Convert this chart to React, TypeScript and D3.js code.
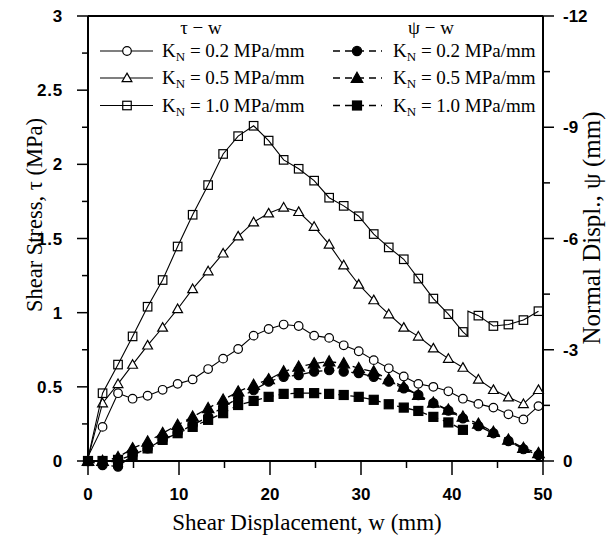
import React from 'react';
import * as d3 from 'd3';

// shear displacement (mm) at which points were recorded
const W = [0, 1.6, 3.3, 4.9, 6.55, 8.2, 9.85, 11.5, 13.2, 14.85, 16.5, 18.2, 19.85, 21.5, 23.15, 24.85, 26.5, 28.1, 29.75, 31.4, 33.05, 34.7, 36.3, 37.95, 39.6, 41.2, 42.9, 44.55, 46.2, 47.85, 49.5];

// shear stress tau (MPa)
const TAU_02 = [0.03, 0.23, 0.457, 0.42, 0.44, 0.48, 0.52, 0.55, 0.62, 0.69, 0.755, 0.845, 0.89, 0.92, 0.91, 0.845, 0.83, 0.78, 0.74, 0.68, 0.625, 0.57, 0.52, 0.5, 0.47, 0.42, 0.385, 0.36, 0.315, 0.28, 0.37];
const TAU_05 = [0.02, 0.39, 0.52, 0.65, 0.78, 0.9, 1.025, 1.16, 1.28, 1.4, 1.515, 1.61, 1.67, 1.71, 1.68, 1.58, 1.46, 1.32, 1.19, 1.085, 0.99, 0.9, 0.84, 0.76, 0.69, 0.63, 0.55, 0.48, 0.43, 0.385, 0.48];
const TAU_10 = [0.02, 0.457, 0.65, 0.84, 1.04, 1.22, 1.446, 1.66, 1.86, 2.07, 2.19, 2.26, 2.16, 2.03, 1.97, 1.89, 1.775, 1.72, 1.65, 1.53, 1.44, 1.36, 1.23, 1.095, 0.99, 0.87, 0.98, 0.91, 0.92, 0.95, 1.01];
// sudden drop and recovery of the 1.0 MPa/mm curve (line only)
const TAU_10_JUMP_W = [41.75, 41.75];
const TAU_10_JUMP_V = [0.84, 1.01];

// normal displacement psi (mm)
const PSI_02 = [0, 0.11, 0.15, -0.16, -0.34, -0.57, -0.76, -0.97, -1.19, -1.46, -1.69, -1.91, -2.14, -2.27, -2.32, -2.41, -2.45, -2.41, -2.37, -2.27, -2.14, -1.96, -1.78, -1.56, -1.36, -1.15, -0.94, -0.75, -0.54, -0.32, -0.16];
const PSI_05 = [0, 0, -0.1, -0.34, -0.52, -0.75, -0.97, -1.19, -1.42, -1.65, -1.87, -2.05, -2.2, -2.41, -2.54, -2.63, -2.68, -2.63, -2.5, -2.41, -2.2, -2.0, -1.78, -1.57, -1.38, -1.19, -1.0, -0.78, -0.57, -0.35, -0.21];
const PSI_10 = [0, 0, -0.03, -0.16, -0.34, -0.57, -0.75, -0.92, -1.11, -1.29, -1.51, -1.62, -1.73, -1.81, -1.83, -1.83, -1.81, -1.78, -1.73, -1.65, -1.53, -1.44, -1.35, -1.19, -1.04, -0.84];

const X_TICKS = [0, 10, 20, 30, 40, 50];
const X_MINOR = [5, 15, 25, 35, 45];
const Y_TICKS = [0, 0.5, 1, 1.5, 2, 2.5, 3];
const Y_TICK_LABELS = ['0', '0.5', '1', '1.5', '2', '2.5', '3'];
const Y_MINOR = [0.25, 0.75, 1.25, 1.75, 2.25, 2.75];
const Y2_TICKS = [0, -3, -6, -9, -12];
const Y2_MINOR = [-1.5, -4.5, -7.5, -10.5];

const LEGEND_KN = ['0.2', '0.5', '1.0'];

type Shape = 'circle' | 'triangle' | 'square';

const x = d3.scaleLinear().domain([0, 50]).range([88, 543]);
const y = d3.scaleLinear().domain([0, 3]).range([461, 16]);
const y2 = d3.scaleLinear().domain([0, -12]).range([461, 16]);

const SERIF = '"Liberation Serif", "Times New Roman", serif';
const SANS = '"Liberation Sans", Arial, Helvetica, sans-serif';

function Marker({ cx, cy, shape, filled }: { cx: number; cy: number; shape: Shape; filled: boolean }) {
  const fill = filled ? '#000' : shape === 'square' ? 'none' : '#fff';
  const sw = 1.2;
  if (shape === 'circle') {
    return <circle cx={cx} cy={cy} r={filled ? 4.6 : 4.3} fill={fill} stroke="#000" strokeWidth={sw} />;
  }
  if (shape === 'square') {
    const s = filled ? 9 : 8.5;
    return <rect x={cx - s / 2} y={cy - s / 2} width={s} height={s} fill={fill} stroke="#000" strokeWidth={sw} />;
  }
  const h = filled ? 5.8 : 4.9;
  const p = `M${cx},${cy - h} L${cx + h},${cy + h * 0.75} L${cx - h},${cy + h * 0.75} Z`;
  return <path d={p} fill={fill} stroke="#000" strokeWidth={sw} />;
}

export default function App() {
  const tauLine = d3
    .line<[number, number]>()
    .x((d) => x(d[0]))
    .y((d) => y(d[1]));
  const psiLine = d3
    .line<[number, number]>()
    .x((d) => x(d[0]))
    .y((d) => y2(d[1]));

  const pts = (vals: number[]): [number, number][] => vals.map((v, i) => [W[i], v]);

  const tau10Line: [number, number][] = [];
  TAU_10.forEach((v, i) => {
    if (W[i] > 41.5 && tau10Line.length && tau10Line[tau10Line.length - 1][0] <= 41.5) {
      TAU_10_JUMP_W.forEach((w, j) => tau10Line.push([w, TAU_10_JUMP_V[j]]));
    }
    tau10Line.push([W[i], v]);
  });

  const tauSeries: { line: [number, number][]; marks: [number, number][]; shape: Shape }[] = [
    { line: pts(TAU_02), marks: pts(TAU_02), shape: 'circle' },
    { line: pts(TAU_05), marks: pts(TAU_05), shape: 'triangle' },
    { line: tau10Line, marks: pts(TAU_10), shape: 'square' },
  ];
  const psiSeries: { vals: [number, number][]; shape: Shape }[] = [
    { vals: pts(PSI_10), shape: 'square' },
    { vals: pts(PSI_02), shape: 'circle' },
    { vals: pts(PSI_05), shape: 'triangle' },
  ];
  const shapes: Shape[] = ['circle', 'triangle', 'square'];
  const rowY = [51, 78, 105.5];

  return (
    <svg width={606} height={538} style={{ position: 'absolute', left: 0, top: 0, background: '#fff' }}>
      <rect width={606} height={538} fill="#fff" />
      {/* frame */}
      <g stroke="#000" strokeWidth={2} fill="none">
        <line x1={x(0)} x2={x(0)} y1={y(0)} y2={y(3)} />
        <line x1={x(50)} x2={x(50)} y1={y(0)} y2={y(3)} />
        <line x1={x(0)} x2={x(50)} y1={y(0)} y2={y(0)} />
        <line x1={x(0)} x2={x(50)} y1={y(3)} y2={y(3)} />
      </g>
      {/* ticks */}
      <g stroke="#000" strokeWidth={1.5}>
        {Y_TICKS.map((t) => (
          <line key={'yt' + t} x1={x(0) - 11} x2={x(0)} y1={y(t)} y2={y(t)} />
        ))}
        {Y_MINOR.map((t) => (
          <line key={'ym' + t} x1={x(0) - 6} x2={x(0)} y1={y(t)} y2={y(t)} />
        ))}
        {X_TICKS.map((t) => (
          <line key={'xt' + t} x1={x(t)} x2={x(t)} y1={y(0)} y2={y(0) + 14} />
        ))}
        {X_MINOR.map((t) => (
          <line key={'xm' + t} x1={x(t)} x2={x(t)} y1={y(0)} y2={y(0) + 7} />
        ))}
        {Y2_TICKS.map((t) => (
          <line key={'y2t' + t} x1={x(50)} x2={x(50) + 11} y1={y2(t)} y2={y2(t)} />
        ))}
        {Y2_MINOR.map((t) => (
          <line key={'y2m' + t} x1={x(50)} x2={x(50) + 7} y1={y2(t)} y2={y2(t)} />
        ))}
      </g>
      {/* tick labels */}
      <g fontFamily={SANS} fontWeight="bold" fontSize={17} fill="#000">
        {Y_TICKS.map((t, i) => (
          <text key={'yl' + t} x={63} y={y(t)} dy="0.36em" textAnchor="end" letterSpacing={0.8}>
            {Y_TICK_LABELS[i]}
          </text>
        ))}
        {X_TICKS.map((t) => (
          <text key={'xl' + t} x={x(t)} y={500} textAnchor="middle">
            {t}
          </text>
        ))}
        {Y2_TICKS.map((t) => (
          <text key={'y2l' + t} x={x(50) + 20} y={y2(t)} dy="0.36em" textAnchor="start">
            {t}
          </text>
        ))}
      </g>
      {/* axis titles */}
      <g fontFamily={SERIF} fill="#000">
        <text x={307} y={530} textAnchor="middle" fontSize={23}>
          Shear Displacement, w (mm)
        </text>
        <text transform="translate(42,215) rotate(-90)" textAnchor="middle" fontSize={22.5}>
          Shear Stress, τ (MPa)
        </text>
        <text transform="translate(600,228) rotate(-90)" textAnchor="middle" fontSize={25}>
          Normal Displ., ψ (mm)
        </text>
      </g>
      {/* psi curves */}
      {psiSeries.map((s, k) => (
        <g key={'psi' + k}>
          <path d={psiLine(s.vals) || ''} fill="none" stroke="#000" strokeWidth={1.3} strokeDasharray="7,5" />
          {s.vals.map((d, i) => (
            <Marker key={i} cx={x(d[0])} cy={y2(d[1])} shape={s.shape} filled />
          ))}
        </g>
      ))}
      {/* tau curves */}
      {tauSeries.map((s, k) => (
        <g key={'tau' + k}>
          <path d={tauLine(s.line) || ''} fill="none" stroke="#000" strokeWidth={1.1} />
          {s.marks.slice(1).map((d, i) => (
            <Marker key={i} cx={x(d[0])} cy={y(d[1])} shape={s.shape} filled={false} />
          ))}
        </g>
      ))}
      {/* legend */}
      <g fontFamily={SERIF} fontSize={19} fill="#000">
        <text x={201} y={34} textAnchor="middle">τ − w</text>
        <text x={431} y={34} textAnchor="middle">ψ − w</text>
        {shapes.map((sh, i) => (
          <g key={'lg' + i}>
            <line x1={100} x2={153} y1={rowY[i]} y2={rowY[i]} stroke="#000" strokeWidth={1.1} />
            <Marker cx={127} cy={rowY[i]} shape={sh} filled={false} />
            <text x={162} y={rowY[i] + 6}>
              K<tspan fontSize={13} dy={4}>N</tspan>
              <tspan dy={-4}> = {LEGEND_KN[i]} MPa/mm</tspan>
            </text>
            <line x1={333} x2={382} y1={rowY[i]} y2={rowY[i]} stroke="#000" strokeWidth={1.3} strokeDasharray="7,5" />
            <Marker cx={357} cy={rowY[i]} shape={sh} filled />
            <text x={393} y={rowY[i] + 6}>
              K<tspan fontSize={13} dy={4}>N</tspan>
              <tspan dy={-4}> = {LEGEND_KN[i]} MPa/mm</tspan>
            </text>
          </g>
        ))}
      </g>
    </svg>
  );
}
